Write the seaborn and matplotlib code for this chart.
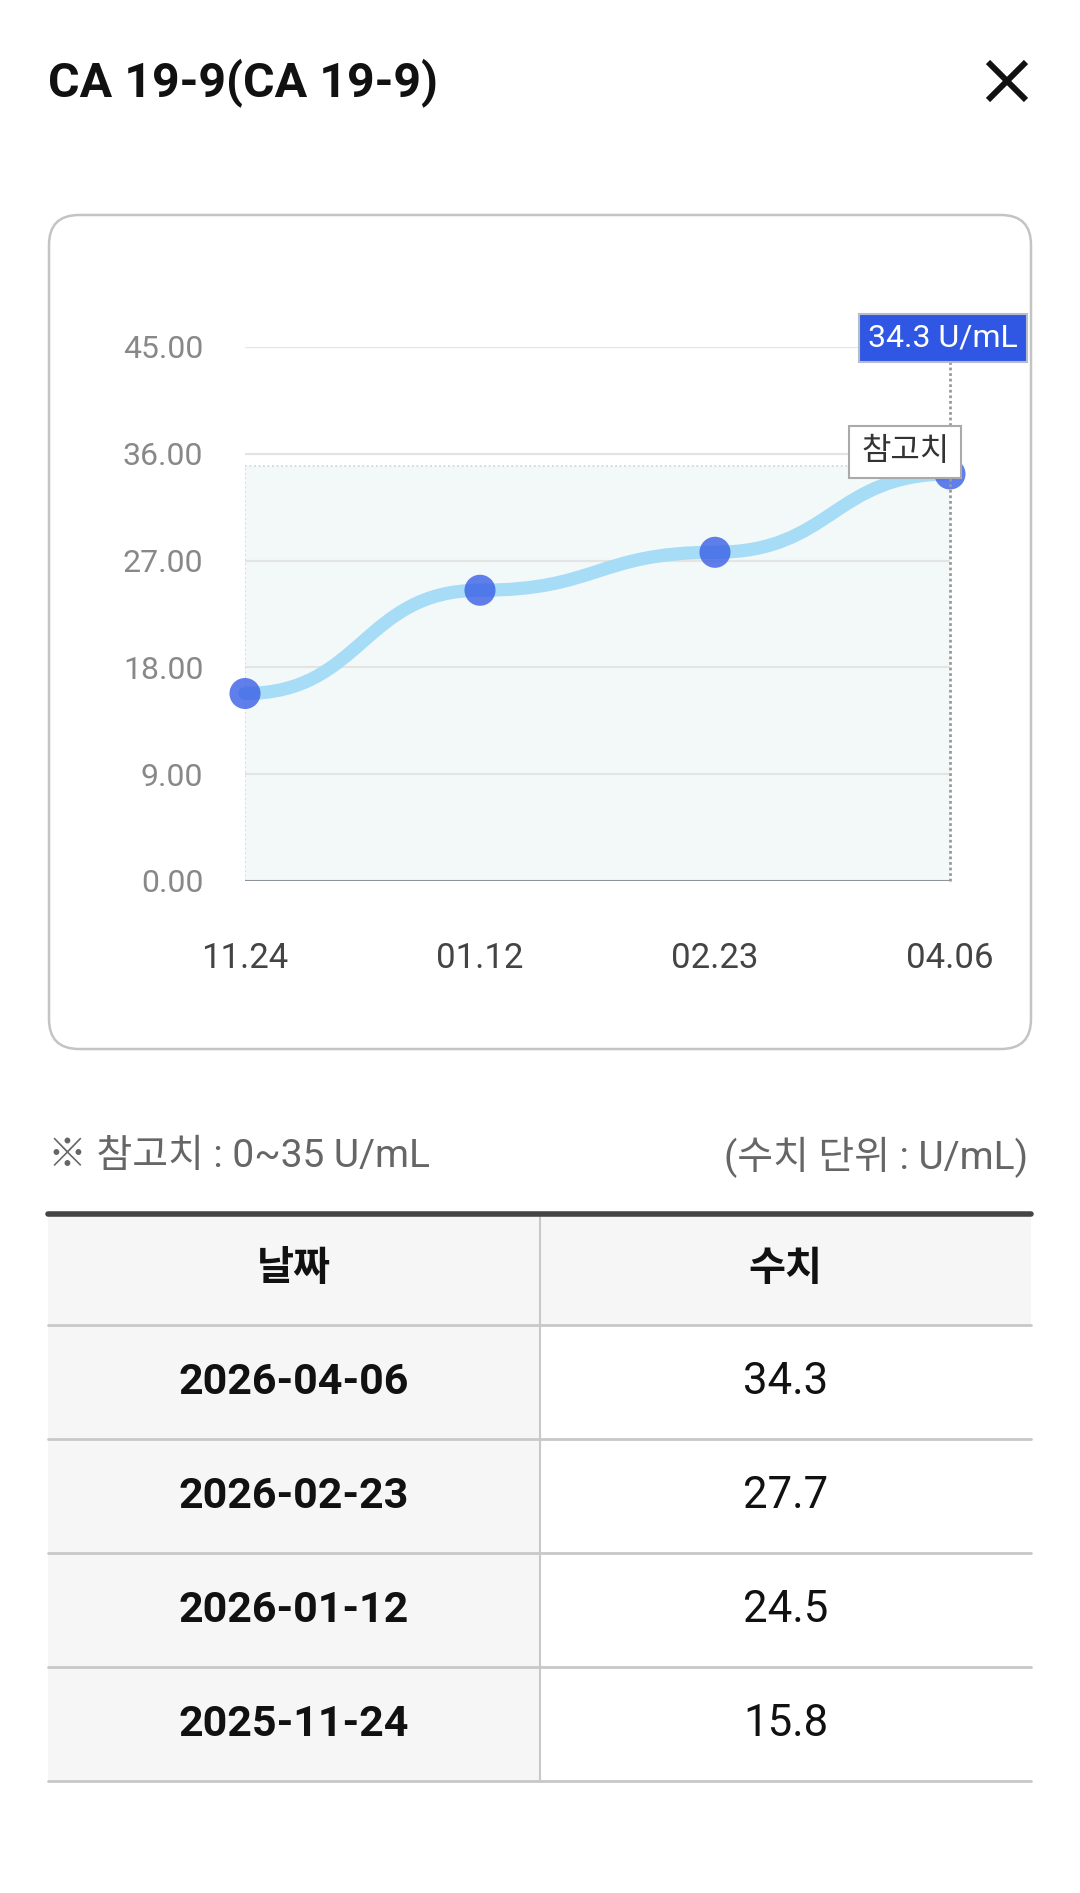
import numpy as np
import pandas as pd
import matplotlib.pyplot as plt
import seaborn as sns
from matplotlib.path import Path
from matplotlib.patches import PathPatch, FancyBboxPatch, Rectangle

# Datos del gráfico
title = 'CA 19-9(CA 19-9)'
dates_short = ['11.24', '01.12', '02.23', '04.06']
dates_full = ['2025-11-24', '2026-01-12', '2026-02-23', '2026-04-06']
values = [15.8, 24.5, 27.7, 34.3]
ref_low, ref_high = 0, 35
y_ticks = [0, 9, 18, 27, 36, 45]
unit = 'U/mL'
ref_label = '참고치'
note_left = '※ 참고치 : 0~35 U/mL'
note_right = '(수치 단위 : U/mL)'
col_headers = ['날짜', '수치']

sns.set_theme(style='white')
plt.rcParams['font.family'] = ['Roboto', 'Noto Sans CJK KR', 'DejaVu Sans']

W, H = 1080, 1893
fig = plt.figure(figsize=(W / 100, H / 100), dpi=100)
fig.patch.set_facecolor('white')

# fondo en coordenadas de pixel
bg = fig.add_axes([0, 0, 1, 1])
bg.set_xlim(0, W)
bg.set_ylim(H, 0)
bg.axis('off')

bg.text(48, 83, title, fontsize=34.8, fontweight='bold', color='#111111', va='center')
bg.plot([988, 1026], [62, 100], color='#111111', lw=4.3, solid_capstyle='butt')
bg.plot([988, 1026], [100, 62], color='#111111', lw=4.3, solid_capstyle='butt')

# tarjeta
bg.add_patch(FancyBboxPatch((49, 215), 982, 834, boxstyle='round,pad=0,rounding_size=30',
                            facecolor='white', edgecolor='#c4c4c4', lw=1.8))

# ejes del gráfico
ax = fig.add_axes([245 / W, 1 - 881 / H, 705 / W, (881 - 347) / H])
ax.patch.set_alpha(0)
xs = np.arange(len(values))
ax.set_xlim(xs[0], xs[-1])
ax.set_ylim(y_ticks[0], y_ticks[-1])
for s in ax.spines.values():
    s.set_visible(False)

# banda de referencia
ax.add_patch(Rectangle((xs[0], ref_low), xs[-1] - xs[0], ref_high - ref_low,
                       facecolor='#f3f9f9', edgecolor='none', zorder=0))
ax.plot([xs[0], xs[-1]], [ref_high, ref_high], ls=(0, (1, 1.5)), color='#d3d8db', lw=1.3, zorder=1)
ax.plot([xs[0], xs[0]], [ref_low, ref_high], ls=(0, (1, 1.5)), color='#d3d8db', lw=1.3, zorder=1)

ax.set_yticks(y_ticks)
ax.set_yticklabels([f'{v:.2f}' for v in y_ticks], fontsize=23, color='#888888')
ax.set_xticks(xs)
ax.set_xticklabels(dates_short, fontsize=25, color='#444444')
ax.tick_params(axis='y', length=0, pad=30)
ax.tick_params(axis='x', length=0, pad=44)
ax.yaxis.grid(True, color='#e4e4e4', lw=1.6)
ax.xaxis.grid(False)
ax.set_axisbelow(True)
ax.axhline(0, color='#8d939b', lw=2.2, zorder=3)

# curva suave
verts = [(xs[0], values[0])]
codes = [Path.MOVETO]
for i in range(1, len(values)):
    dx = (xs[i] - xs[i - 1]) * 0.5
    verts += [(xs[i - 1] + dx, values[i - 1]), (xs[i] - dx, values[i]), (xs[i], values[i])]
    codes += [Path.CURVE4] * 3
ax.add_patch(PathPatch(Path(verts, codes), facecolor='none', edgecolor='#a6dcf5',
                       lw=9.5, capstyle='round', zorder=4, clip_on=False))

df = pd.DataFrame({'x': xs, 'valor': values})
sns.scatterplot(data=df, x='x', y='valor', s=500, color='#3a5fe6', alpha=0.8,
                edgecolor='none', zorder=5, clip_on=False, legend=False, ax=ax)
ax.set_xlabel('')
ax.set_ylabel('')

# línea punteada del último punto
ax.plot([xs[-1], xs[-1]], [y_ticks[0], y_ticks[-1]], ls=(0, (1, 1)), color='#9a9a9a',
        lw=2, clip_on=False, zorder=6)

ax.annotate(f'{values[-1]} {unit}', xy=(xs[-1], y_ticks[-1]), xytext=(-7, 9),
            textcoords='offset pixels', ha='center', va='center', fontsize=23, color='white',
            bbox=dict(boxstyle='square,pad=0.3', fc='#2f57e4', ec='#b8bcc8', lw=1.5),
            zorder=10, annotation_clip=False)
ax.annotate(ref_label, xy=(xs[-1], ref_high), xytext=(-45, 14),
            textcoords='offset pixels', ha='center', va='center', fontsize=23, color='#333333',
            bbox=dict(boxstyle='square,pad=0.36', fc='white', ec='#aaaaaa', lw=1.5),
            zorder=10, annotation_clip=False)

# notas
bg.text(48, 1157, note_left, fontsize=28, color='#666666', va='center')
bg.text(1028, 1157, note_right, fontsize=28, color='#666666', va='center', ha='right')

# tabla
t_left, t_right, t_div = 48, 1031, 540
t_top, head_h, row_h = 1214, 111, 114
bg.add_patch(Rectangle((t_left, t_top), t_right - t_left, head_h, fc='#f6f6f6', ec='none'))
bg.text((t_left + t_div) / 2, t_top + head_h / 2, col_headers[0], fontsize=29,
        fontweight='bold', color='#111111', ha='center', va='center')
bg.text((t_div + t_right) / 2, t_top + head_h / 2, col_headers[1], fontsize=29,
        fontweight='bold', color='#111111', ha='center', va='center')

rows = list(zip(dates_full[::-1], values[::-1]))
y = t_top + head_h
for d, v in rows:
    bg.add_patch(Rectangle((t_left, y), t_div - t_left, row_h, fc='#f6f6f6', ec='none'))
    bg.text((t_left + t_div) / 2, y + row_h / 2, d, fontsize=31, fontweight='bold',
            color='#111111', ha='center', va='center')
    bg.text((t_div + t_right) / 2, y + row_h / 2, f'{v}', fontsize=31.5,
            color='#111111', ha='center', va='center')
    bg.plot([t_left, t_right], [y, y], color='#c8c8c8', lw=2)
    y += row_h
bg.plot([t_left, t_right], [y, y], color='#c8c8c8', lw=2)
bg.plot([t_div, t_div], [t_top, y], color='#c8c8c8', lw=1.5)
bg.plot([t_left, t_right], [t_top, t_top], color='#444444', lw=4)

fig.savefig('out.png', dpi=100, facecolor='white')
